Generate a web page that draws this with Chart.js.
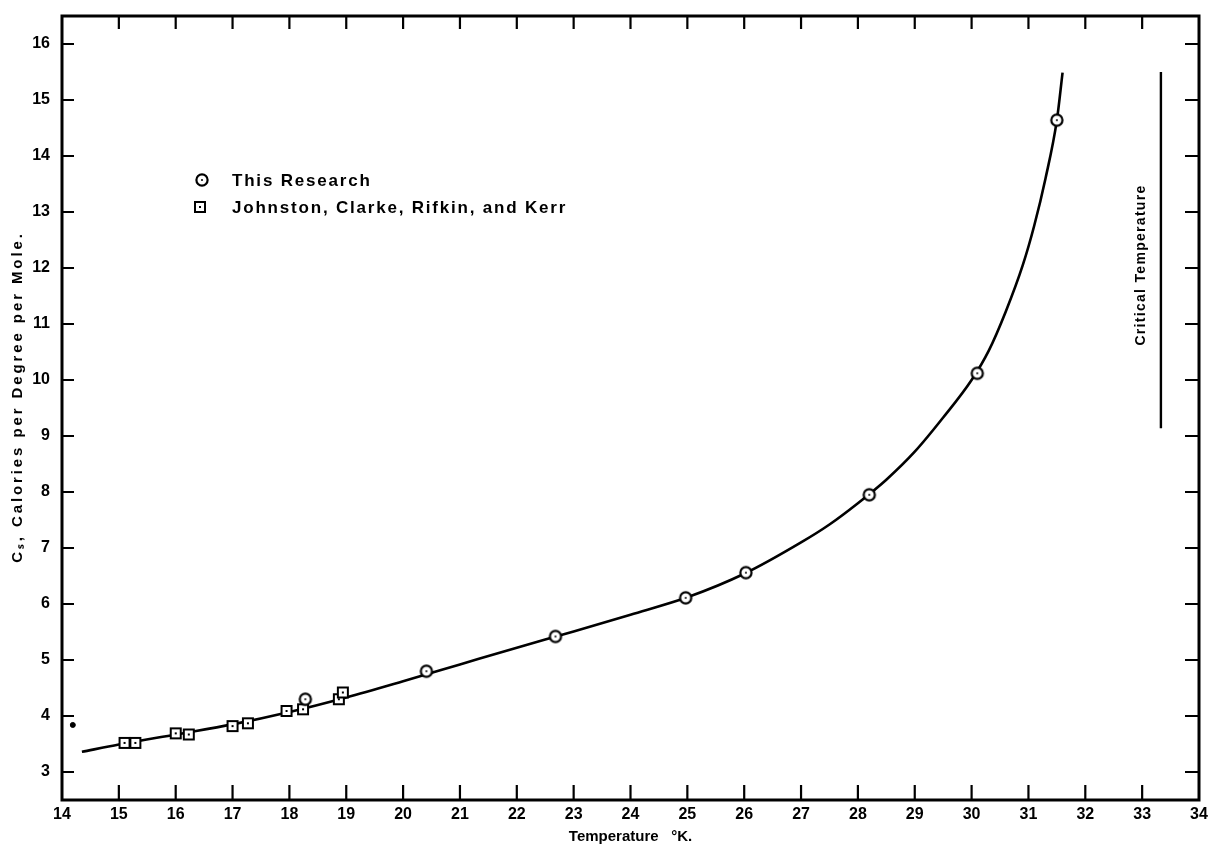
<!DOCTYPE html>
<html>
<head>
<meta charset="utf-8">
<script src="https://cdn.jsdelivr.net/npm/chart.js@4.4.1/dist/chart.umd.min.js"></script>
<style>
  body { margin: 0; background: #fff; }
  canvas { display: block; }
</style>
</head>
<body>
<canvas id="myChart" width="1216" height="846"></canvas>
<script>
// values
const researchT  = [18.28, 20.41, 22.68, 24.97, 26.03, 28.20, 30.10, 31.50];
const researchCs = [4.30, 4.80, 5.42, 6.11, 6.56, 7.95, 10.12, 14.64];

const johnstonT  = [15.10, 15.29, 16.00, 16.23, 17.00, 17.27, 17.95, 18.24, 18.87, 18.94];
const johnstonCs = [3.52, 3.52, 3.69, 3.67, 3.82, 3.87, 4.09, 4.12, 4.30, 4.42];

const loneT  = [14.19];
const loneCs = [3.84];

const curveT  = [14.35, 15, 16, 17, 18, 19, 20, 21, 22, 23, 24, 25, 26, 27, 27.5, 28, 28.5, 29, 29.5, 30, 30.3, 30.6, 30.9, 31.1, 31.3, 31.5, 31.6];
const curveCs = [3.36, 3.49, 3.67, 3.85, 4.07, 4.33, 4.62, 4.92, 5.22, 5.51, 5.81, 6.12, 6.54, 7.1, 7.42, 7.8, 8.22, 8.72, 9.33, 10.0, 10.52, 11.22, 12.05, 12.75, 13.6, 14.64, 15.49];

const criticalT  = [33.33, 33.33];
const criticalCs = [9.14, 15.5];

const xTicks = [14, 15, 16, 17, 18, 19, 20, 21, 22, 23, 24, 25, 26, 27, 28, 29, 30, 31, 32, 33, 34];
const yTicks = [3, 4, 5, 6, 7, 8, 9, 10, 11, 12, 13, 14, 15, 16];

const legendNames = ['This Research', 'Johnston, Clarke, Rifkin, and Kerr'];

const pts = (xs, ys) => xs.map((x, i) => ({x: x, y: ys[i]}));
const FONT = "'Liberation Sans', Arial, sans-serif";

// marker images
function makeCircle() {
    const c = document.createElement('canvas');
    c.width = 16; c.height = 16;
    const g = c.getContext('2d');
    g.beginPath(); g.arc(8, 8, 5.6, 0, Math.PI * 2);
    g.fillStyle = '#fff'; g.fill();
    g.lineWidth = 2.2; g.strokeStyle = '#000'; g.stroke();
    g.beginPath(); g.arc(8, 8, 1, 0, Math.PI * 2);
    g.fillStyle = '#000'; g.fill();
    return c;
}
function makeSquare() {
    const c = document.createElement('canvas');
    c.width = 14; c.height = 14;
    const g = c.getContext('2d');
    g.fillStyle = '#fff'; g.fillRect(2, 2, 10, 10);
    g.lineWidth = 2; g.strokeStyle = '#000'; g.strokeRect(2, 2, 10, 10);
    g.fillStyle = '#000'; g.fillRect(6, 6, 2, 2);
    return c;
}
const circleImg = makeCircle();
const squareImg = makeSquare();

const frame = {
    id: 'frame',
    afterDraw(chart) {
        const {ctx, chartArea: a, scales: {x, y}} = chart;
        ctx.save();
        ctx.strokeStyle = '#000';
        ctx.lineWidth = 3;
        ctx.strokeRect(a.left, a.top, a.right - a.left, a.bottom - a.top);
        ctx.lineWidth = 2.2;
        ctx.beginPath();
        xTicks.slice(1, -1).forEach(v => {
            const px = x.getPixelForValue(v);
            ctx.moveTo(px, a.bottom); ctx.lineTo(px, a.bottom - 15);
            ctx.moveTo(px, a.top); ctx.lineTo(px, a.top + 13);
        });
        yTicks.forEach(v => {
            const py = y.getPixelForValue(v);
            ctx.moveTo(a.left, py); ctx.lineTo(a.left + 12, py);
            ctx.moveTo(a.right, py); ctx.lineTo(a.right - 14, py);
        });
        ctx.stroke();

        ctx.fillStyle = '#000';
        ctx.textBaseline = 'middle';

        // legend
        ctx.font = 'bold 17px ' + FONT;
        ctx.letterSpacing = '1.8px';
        ctx.drawImage(circleImg, 202 - 8, 180 - 8);
        ctx.fillText(legendNames[0], 232, 181);
        ctx.drawImage(squareImg, 200 - 7, 207 - 7);
        ctx.fillText(legendNames[1], 232, 208);

        ctx.textAlign = 'center';

        // y axis title
        ctx.save();
        ctx.translate(18, 397);
        ctx.rotate(-Math.PI / 2);
        ctx.font = 'bold 15px ' + FONT;
        ctx.letterSpacing = '2.9px';
        ctx.fillText('Cₛ, Calories per Degree per Mole.', 0, 0);
        ctx.restore();

        // critical temperature label
        ctx.translate(x.getPixelForValue(33.33) - 20, 265);
        ctx.rotate(-Math.PI / 2);
        ctx.font = 'bold 14px ' + FONT;
        ctx.letterSpacing = '1.3px';
        ctx.fillText('Critical Temperature', 0, 0);
        ctx.restore();
    }
};

new Chart(document.getElementById('myChart'), {
    type: 'scatter',
    data: {
        datasets: [{
            label: 'curve',
            type: 'line',
            data: pts(curveT, curveCs),
            borderColor: '#000',
            borderWidth: 2.6,
            pointRadius: 0,
            cubicInterpolationMode: 'monotone',
            order: 3
        }, {
            label: 'critical',
            type: 'line',
            data: pts(criticalT, criticalCs),
            borderColor: '#000',
            borderWidth: 2.4,
            pointRadius: 0,
            order: 3
        }, {
            label: legendNames[0],
            data: pts(researchT, researchCs),
            pointStyle: circleImg,
            order: 1
        }, {
            label: legendNames[1],
            data: pts(johnstonT, johnstonCs),
            pointStyle: squareImg,
            order: 2
        }, {
            label: 'point',
            data: pts(loneT, loneCs),
            pointRadius: 2.5,
            backgroundColor: '#000',
            borderColor: '#000',
            order: 2
        }]
    },
    options: {
        responsive: false,
        animation: false,
        layout: { padding: { top: 16, right: 17, left: 0, bottom: 0 } },
        plugins: {
            legend: { display: false },
            tooltip: { enabled: false }
        },
        scales: {
            x: {
                type: 'linear',
                min: 14,
                max: 34,
                afterBuildTicks: s => { s.ticks = xTicks.map(v => ({value: v})); },
                afterFit: s => { s.height = 46; },
                grid: { display: false, drawTicks: false },
                border: { display: false },
                ticks: {
                    padding: 5,
                    color: '#000',
                    font: { family: FONT, size: 16, weight: 'bold' }
                },
                title: {
                    display: true,
                    text: 'Temperature   °K.',
                    color: '#000',
                    padding: { top: 0, bottom: 0 },
                    font: { family: FONT, size: 15, weight: 'bold' }
                }
            },
            y: {
                type: 'linear',
                min: 2.5,
                max: 16.5,
                afterBuildTicks: s => { s.ticks = yTicks.map(v => ({value: v})); },
                afterFit: s => { s.width = 62; s.paddingTop = 0; s.paddingBottom = 0; },
                grid: { display: false, drawTicks: false },
                border: { display: false },
                ticks: {
                    padding: 12,
                    color: '#000',
                    font: { family: FONT, size: 16, weight: 'bold' }
                },
                title: { display: false }
            }
        }
    },
    plugins: [frame]
});
</script>
</body>
</html>
